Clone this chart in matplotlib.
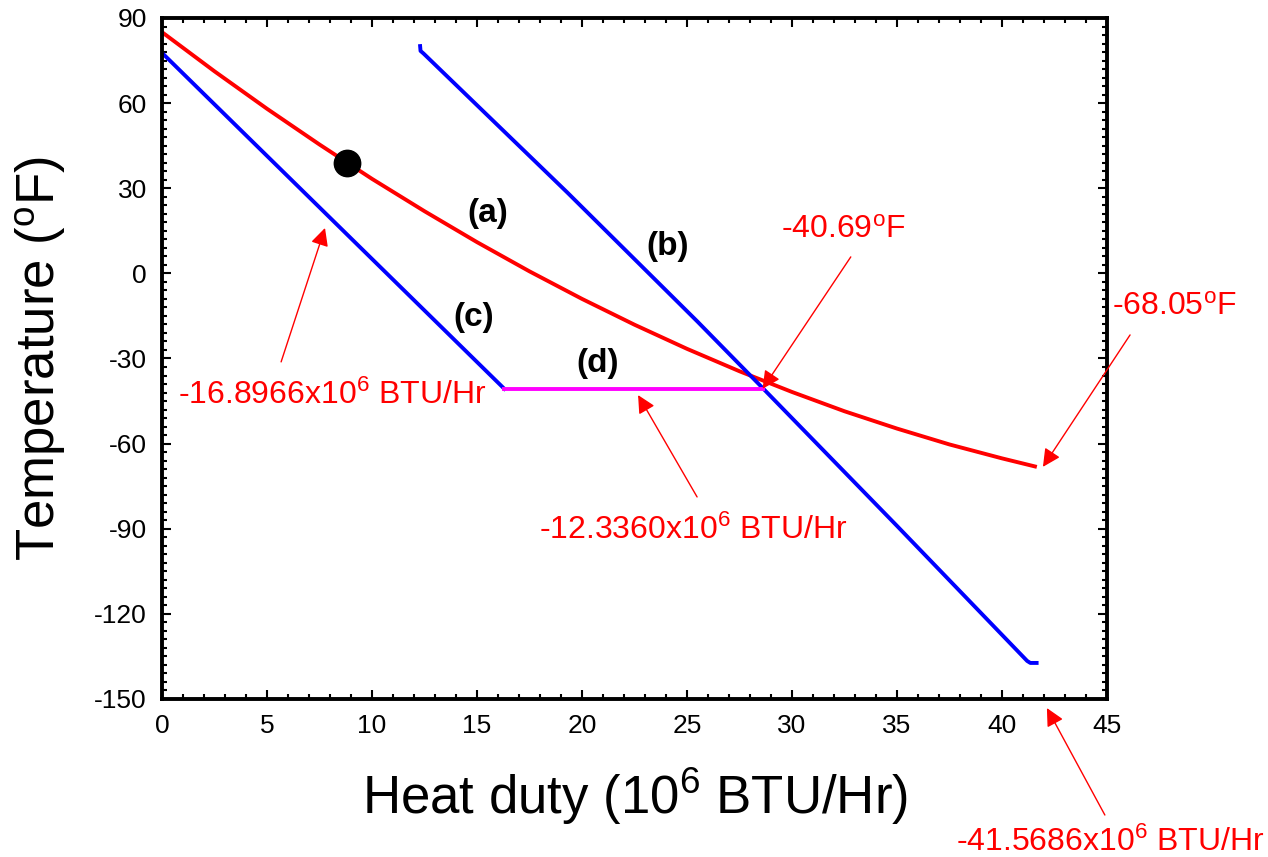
import matplotlib
matplotlib.use("Agg")
import matplotlib.pyplot as plt
from matplotlib.ticker import MultipleLocator

plt.rcParams['font.family'] = ['Liberation Sans', 'DejaVu Sans']
plt.rcParams['mathtext.default'] = 'regular'
plt.rcParams['axes.unicode_minus'] = False

# (a) hot stream
hot_x = [0, 2.5, 5, 7.5, 10, 12.5, 15, 17.5, 20, 22.5, 25, 27.5, 30, 32.5, 35, 37.5, 40, 41.57]
hot_y = [85, 71.2, 58.0, 45.4, 33.3, 21.9, 11.0, 0.7, -9.0, -18.1, -26.6, -34.5, -41.8, -48.6,
         -54.7, -60.3, -65.2, -68.05]
# (b) cold stream
b_x = [12.29, 12.31, 12.45, 19.3, 25.5, 28.64, 35.0, 41.2, 41.35, 41.65]
b_y = [80.1, 78.4, 77.5, 28.5, -17.0, -40.69, -89.0, -136.6, -137.3, -137.3]
# (c) cooling line and (d) phase change
c_x = [0, 16.3]
c_y = [77.7, -40.69]
d_x = [16.3, 28.64]
d_y = [-40.69, -40.69]
dot_x, dot_y = 8.8, 38.9

fig = plt.figure(figsize=(12.68, 8.57), dpi=100)
ax = fig.add_axes([0.1278, 0.1844, 0.7452, 0.7946])

ax.plot(hot_x, hot_y, color='red', lw=2.8)
ax.plot(b_x, b_y, color='blue', lw=2.8)
ax.plot(c_x, c_y, color='blue', lw=2.8)
ax.plot(d_x, d_y, color='magenta', lw=2.8)
ax.plot(dot_x, dot_y, 'o', color='black', ms=19)

ax.set_xlim(0, 45)
ax.set_ylim(-150, 90)
ax.xaxis.set_major_locator(MultipleLocator(5))
ax.xaxis.set_minor_locator(MultipleLocator(1))
ax.yaxis.set_major_locator(MultipleLocator(30))
ax.yaxis.set_minor_locator(MultipleLocator(3))
ax.tick_params(which='both', direction='in', top=True, right=True, width=1.5,
               labelsize=19, pad=11)
ax.tick_params(which='major', length=6.5)
ax.tick_params(which='minor', length=3.6)
for s in ax.spines.values():
    s.set_linewidth(2.8)

ax.set_xlabel('Heat duty (10$^{6}$ BTU/Hr)', fontsize=38, labelpad=20)
ax.set_ylabel('Temperature ($^{o}$F)', fontsize=38, labelpad=19)

# curve labels
for t, x, y in [('(a)', 15.52, 21.0), ('(b)', 24.1, 9.6), ('(c)', 14.86, -15.7), ('(d)', 20.76, -31.9)]:
    ax.text(x, y, t, fontsize=24, fontweight='bold', ha='center', va='center')

red = 'red'
ap = dict(arrowstyle='-|>', color=red, lw=1, mutation_scale=27, shrinkA=0, shrinkB=0)
notes = [
    ('-40.69$^{o}$F', 32.43, 12.5, (32.8, 5.8), (28.6, -40.69)),
    ('-68.05$^{o}$F', 48.19, -14.7, (46.1, -21.7), (41.95, -68.2)),
    ('-16.8966x10$^{6}$ BTU/Hr', 8.1, -46.0, (5.67, -31.2), (7.76, 16.0)),
    ('-12.3360x10$^{6}$ BTU/Hr', 25.29, -93.6, (25.48, -78.8), (22.67, -42.9)),
    ('-41.5686x10$^{6}$ BTU/Hr', 45.14, -203.6, (44.9, -190.9), (42.14, -153.2)),
]
for t, tx, ty, tail, tip in notes:
    ax.text(tx, ty, t, color=red, fontsize=23, ha='center', va='baseline', clip_on=False)
    ax.annotate('', xy=tip, xytext=tail, arrowprops=ap, annotation_clip=False)

fig.savefig('out.png', dpi=100)
